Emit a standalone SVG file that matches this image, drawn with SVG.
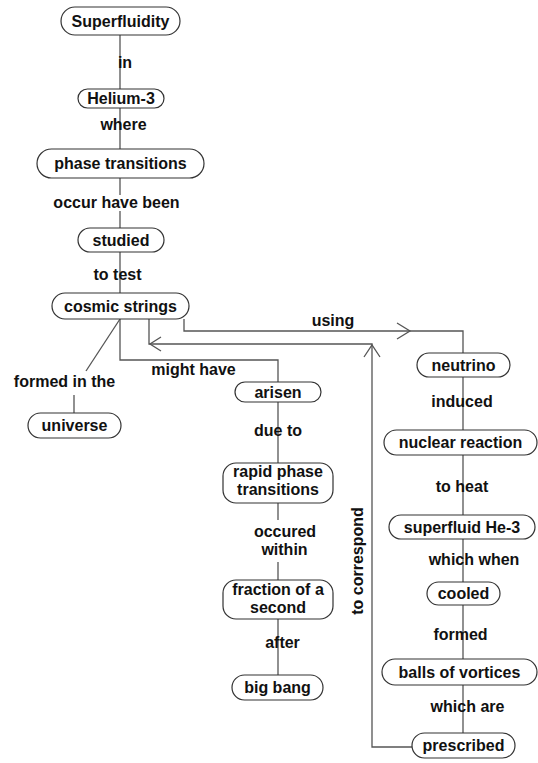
<svg xmlns="http://www.w3.org/2000/svg" width="538" height="763" viewBox="0 0 538 763">
  <style>
    .node rect { fill: #ffffff; stroke: #333333; stroke-width: 1.2; }
    .node text, .lbl { font-family: "Liberation Sans", Arial, sans-serif; font-size: 16px; font-weight: bold; fill: #111111; text-anchor: middle; }
    .conn path, .conn line { fill: none; stroke: #555555; stroke-width: 1.3; }
  </style>
  <rect width="538" height="763" fill="#ffffff"/>

  <!-- connectors -->
  <g id="connectors" class="conn">
    <line x1="120" y1="35" x2="120" y2="89"/>
    <line x1="120" y1="108" x2="120" y2="149"/>
    <line x1="120" y1="178" x2="120" y2="195"/>
    <line x1="120" y1="211" x2="120" y2="228"/>
    <line x1="120" y1="252" x2="120" y2="293"/>
    <!-- cosmic strings: formed in the universe -->
    <line x1="120" y1="319" x2="86" y2="371"/>
    <line x1="74" y1="395" x2="74" y2="413"/>
    <!-- cosmic strings: might have arisen -->
    <path d="M120 319 V360 H278 V382"/>
    <line x1="278" y1="402" x2="278" y2="463"/>
    <line x1="278" y1="503" x2="278" y2="520"/>
    <line x1="278" y1="562" x2="278" y2="580"/>
    <line x1="278" y1="619" x2="278" y2="675"/>
    <!-- cosmic strings: using neutrino -->
    <path d="M184 319 V331 H463 V353"/>
    <path d="M397 323 L410 331 L397 339"/>
    <line x1="463" y1="377" x2="463" y2="430"/>
    <line x1="463" y1="455" x2="463" y2="515"/>
    <line x1="463" y1="539" x2="463" y2="582"/>
    <line x1="463" y1="605" x2="463" y2="659"/>
    <line x1="463" y1="685" x2="463" y2="733"/>
    <!-- prescribed: to correspond back to cosmic strings -->
    <path d="M412 747 H372 V344 H149 V319"/>
    <path d="M364 357 L372 345 L380 357"/>
    <path d="M161 337 L150 344 L161 351"/>
  </g>

  <!-- link labels -->
  <g id="labels">
    <text class="lbl" x="125" y="68">in</text>
    <text class="lbl" x="123.5" y="130">where</text>
    <text class="lbl" x="116.5" y="208">occur have been</text>
    <text class="lbl" x="117.5" y="280">to test</text>
    <text class="lbl" x="64.5" y="387">formed in the</text>
    <text class="lbl" x="193.5" y="375">might have</text>
    <text class="lbl" x="333" y="326">using</text>
    <text class="lbl" x="278" y="436">due to</text>
    <text class="lbl" x="285" y="537">occured</text>
    <text class="lbl" x="284.5" y="555">within</text>
    <text class="lbl" x="282.5" y="648">after</text>
    <text class="lbl" x="462" y="407">induced</text>
    <text class="lbl" x="462" y="492">to heat</text>
    <text class="lbl" x="474" y="565">which when</text>
    <text class="lbl" x="460.5" y="640">formed</text>
    <text class="lbl" x="467.5" y="712">which are</text>
    <text class="lbl" x="363" y="561" transform="rotate(-90 363 561)">to correspond</text>
  </g>

  <!-- concept nodes -->
  <g id="superfluidity" class="node"><rect x="61" y="7" width="119" height="28" rx="14"/><text x="120.5" y="26.5">Superfluidity</text></g>
  <g id="helium3" class="node"><rect x="78" y="89" width="86" height="19" rx="9.5"/><text x="121" y="103.5">Helium-3</text></g>
  <g id="phase-transitions" class="node"><rect x="37" y="149" width="167" height="29" rx="14.5"/><text x="120.5" y="168.5">phase transitions</text></g>
  <g id="studied" class="node"><rect x="78" y="228" width="86" height="24" rx="12"/><text x="121" y="245.5">studied</text></g>
  <g id="cosmic-strings" class="node"><rect x="52" y="293" width="137" height="26" rx="13"/><text x="120.5" y="311.5">cosmic strings</text></g>
  <g id="universe" class="node"><rect x="28" y="413" width="93" height="25" rx="12.5"/><text x="74.5" y="431">universe</text></g>
  <g id="arisen" class="node"><rect x="235" y="382" width="86" height="20" rx="10"/><text x="278" y="397.5">arisen</text></g>
  <g id="rapid-phase-transitions" class="node"><rect x="223" y="463" width="110" height="40" rx="13"/><text x="278" y="477">rapid phase</text><text x="278" y="495">transitions</text></g>
  <g id="fraction-of-a-second" class="node"><rect x="223" y="580" width="110" height="39" rx="13"/><text x="278" y="595">fraction of a</text><text x="278" y="613">second</text></g>
  <g id="big-bang" class="node"><rect x="232" y="675" width="91" height="25" rx="12.5"/><text x="277.5" y="693">big bang</text></g>
  <g id="neutrino" class="node"><rect x="417" y="353" width="93" height="24" rx="12"/><text x="463.5" y="370.5">neutrino</text></g>
  <g id="nuclear-reaction" class="node"><rect x="384" y="430" width="153" height="25" rx="12.5"/><text x="460.5" y="448">nuclear reaction</text></g>
  <g id="superfluid-he3" class="node"><rect x="389" y="515" width="146" height="24" rx="12"/><text x="462" y="532.5">superfluid He-3</text></g>
  <g id="cooled" class="node"><rect x="427" y="582" width="73" height="23" rx="11.5"/><text x="463.5" y="599">cooled</text></g>
  <g id="balls-of-vortices" class="node"><rect x="382" y="659" width="155" height="26" rx="13"/><text x="459.5" y="677.5">balls of vortices</text></g>
  <g id="prescribed" class="node"><rect x="412" y="733" width="103" height="25" rx="12.5"/><text x="463.5" y="751">prescribed</text></g>
</svg>
